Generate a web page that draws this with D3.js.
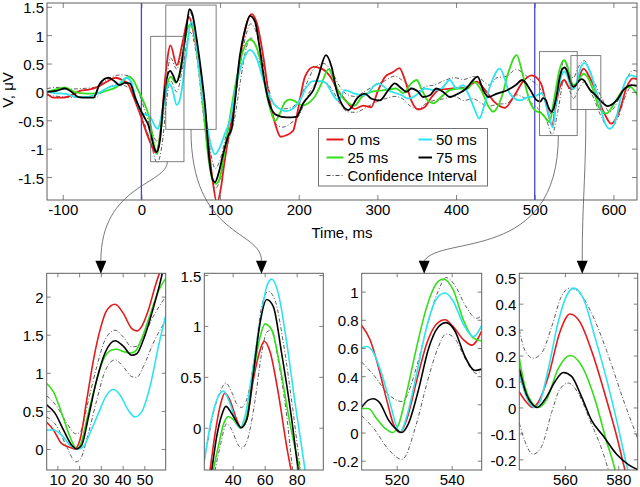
<!DOCTYPE html>
<html><head><meta charset="utf-8">
<script src="https://cdn.jsdelivr.net/npm/d3@7"></script>
<style>body{margin:0;background:#fff}svg{display:block}</style>
</head><body><svg id="c" width="640" height="487"></svg>
<script>
// ---------------- DATA ----------------
const seriesNames = ['0 ms','25 ms','50 ms','75 ms'];
const ciName = 'Confidence Interval';
const markerTimes = [0, 500];
const mainXTicks = [-100,0,100,200,300,400,500,600];
const mainYTicks = [-1.5,-1,-0.5,0,0.5,1,1.5];
const mainXDomain = [-120, 630];
const mainYDomain = [-1.905, 1.567];

const redMain = [[-120,-0.03],[-112,-0.1],[-100,-0.1],[-89,-0.06],[-78,0.02],[-67,0.04],[-57,0.08],[-44,0.18],[-33,0.25],[-23,0.2],[-17,0.14],[-10,-0.09],[-2,-0.38],[7,-0.74],[13,-0.95],[18,-1.07],[24,-0.75],[31,0.35],[37,0.82],[45,0.47],[52,0.85],[60.5,1.32],[67,1.0],[74,0.44],[83,-0.62],[90,-1.5],[96,-1.95],[101,-1.7],[105,-1.3],[110,-0.85],[117,-0.32],[125,0.56],[132,1.1],[140,1.37],[147,1.2],[155,0.62],[163,-0.15],[170,-0.56],[177,-0.79],[185,-0.76],[193,-0.68],[199,-0.32],[208,0.27],[219,0.44],[229,0.41],[240,0.27],[250,0.02],[258,-0.12],[265,-0.24],[271,-0.3],[282,-0.24],[292,-0.27],[301,0.03],[310,0.27],[320,0.35],[328,0.42],[335,0.21],[343,-0.15],[352,-0.31],[360,-0.27],[369,-0.09],[379,0.04],[396,0.06],[413,0.08],[426,0.18],[437,0.03],[449,-0.18],[462,-0.28],[473,-0.09],[485,0.18],[496,0.29],[507,0.17],[510,0.07],[513,-0.12],[517,-0.37],[522,-0.59],[527,-0.22],[531,0.04],[537.5,0.21],[544,0.07],[548,0.05],[554,0.17],[562,0.41],[570,0.25],[576,0.08],[582,-0.17],[590,-0.42],[597,-0.56],[608,-0.32],[617,0.09],[625,0.24],[632,0.21]];
const greenMain = [[-120,0],[-110,0.04],[-97,0.08],[-85,0.0],[-70,-0.03],[-55,-0.02],[-40,0.04],[-31,0.09],[-23,0.2],[-16,0.27],[-10,0.2],[-4,0.03],[3,-0.18],[8,-0.36],[12,-0.6],[16,-0.92],[20,-1.1],[24,-0.72],[28,-0.25],[32,0.08],[37,0.27],[44,0.16],[49,0.36],[56,0.95],[61,1.18],[66,1.1],[72,0.56],[79,-0.32],[85,-1.15],[91,-1.56],[95,-1.62],[100,-1.5],[106,-1.03],[112.6,-0.44],[119,0.09],[127,0.62],[138,0.92],[146,0.8],[153,0.44],[159,-0.03],[165.5,-0.38],[170,-0.51],[176,-0.38],[182.5,-0.18],[189,-0.13],[197,-0.18],[205,-0.24],[212,-0.2],[220,-0.09],[229,0.15],[238,0.4],[246,0.15],[252,-0.03],[259,-0.15],[271,-0.24],[280,-0.09],[292,0],[309,0.03],[324,0.06],[333,-0.02],[343,0.15],[350,0.21],[356,0.05],[364,-0.15],[371,-0.2],[381,-0.09],[392,0.03],[403,0.06],[415,0.06],[422,0.18],[432,0.03],[441,-0.25],[447,-0.35],[458,-0.09],[466,0.32],[477,0.65],[485,0.29],[494,-0.18],[502,-0.34],[507,-0.36],[512,-0.43],[519,-0.53],[523,-0.26],[527,0.06],[531,0.36],[537,0.56],[541,0.48],[545,0.25],[549,0.12],[553,0.14],[558,0.26],[562,0.32],[566,0.28],[571,0.15],[576,-0.03],[582,-0.28],[591,-0.38],[602,-0.18],[612,0.03],[621,0.09],[632,-0.09]];
const cyanMain = [[-120,0],[-110,-0.02],[-95,-0.04],[-82,-0.09],[-70,-0.09],[-57,-0.04],[-40,0.09],[-30,0.12],[-19,0.25],[-13,0.18],[-7,-0.12],[0,-0.36],[5,-0.4],[9,-0.41],[13,-0.48],[17,-0.6],[21,-0.65],[25,-0.45],[29,-0.18],[33,0.07],[35.5,0.14],[39,0.06],[45,-0.23],[49,-0.13],[53,0.2],[57.4,0.72],[63.5,1.24],[67,1.1],[74.5,0.27],[83,-0.56],[89,-0.97],[93.5,-1.1],[100,-0.97],[106,-0.74],[112.6,-0.5],[121,0.15],[129.5,0.56],[138,0.74],[146.5,0.59],[155,0.21],[163,-0.09],[172,-0.26],[184.6,-0.34],[193,-0.29],[201.5,-0.15],[210,0.09],[218.5,0.19],[229,0.19],[235,0.15],[244,-0.06],[250,-0.15],[258.7,0.03],[271,-0.03],[284,-0.06],[297,0.12],[301,0.15],[314,0.03],[331,-0.06],[339,-0.12],[352,-0.03],[360,0.06],[373,0.03],[381.5,0.06],[392,0.21],[400.5,0.06],[409,0.12],[415.4,-0.03],[424,-0.32],[429.4,-0.47],[436.6,-0.2],[443,0.09],[455.6,0.41],[468.5,-0.03],[481,-0.15],[491.6,-0.09],[500,-0.08],[509,-0.02],[514,-0.2],[518,-0.42],[523,-0.63],[527,-0.21],[531,0.12],[535,0.32],[538,0.36],[541,0.3],[545,0.12],[549,0.05],[554,0.2],[558,0.41],[563.5,0.51],[568,0.43],[572,0.3],[576,0.1],[583,-0.22],[588,-0.5],[595.4,-0.65],[604,-0.44],[610.3,-0.03],[618.7,0.27],[623,0.29],[632,0.24]];
const blackMain = [[-120,0],[-108,0.02],[-97,0.06],[-88.6,0],[-80,-0.09],[-69.6,-0.1],[-61,-0.1],[-52.6,0.15],[-42,0.25],[-33.5,0.18],[-28,0.12],[-21,0.16],[-14.5,0.15],[-8,-0.1],[0,-0.35],[5,-0.48],[9,-0.59],[13,-0.81],[16.5,-1.0],[19.4,-1.06],[23.6,-0.85],[28,-0.18],[32,0.22],[36.5,0.37],[40,0.3],[44.5,0.17],[49.5,0.37],[53.4,0.72],[57.2,1.12],[61,1.46],[65,1.36],[70.6,0.9],[76.9,0.25],[81,-0.25],[86,-1.15],[91,-1.56],[93.5,-1.59],[98,-1.44],[104,-1.09],[110.5,-0.77],[114.7,-0.65],[119,-0.15],[125,0.62],[131.6,1.09],[138,1.34],[144.4,1.24],[150.7,0.74],[157,0.15],[163.4,-0.24],[172,-0.41],[184.6,-0.45],[197,-0.44],[205.7,-0.2],[212,-0.09],[218.5,0.03],[224.8,0.27],[234.6,0.65],[241.8,0.44],[248,0.03],[252.4,-0.15],[263,-0.32],[275.7,-0.09],[284,-0.03],[292.6,-0.12],[303,-0.15],[313.8,0.03],[322,0.15],[330.7,0.06],[337,0],[343.4,0.06],[352,0],[358,-0.09],[366.7,-0.06],[375,0.06],[383.6,0],[392,-0.09],[402.7,-0.03],[413,0.06],[421.8,0.21],[427.3,0.27],[434.5,0.03],[441,-0.09],[452,-0.03],[465,0.03],[476,0.12],[484,0.21],[494.6,0.03],[502,-0.14],[507,-0.17],[510.5,-0.11],[514,-0.14],[517,-0.26],[521.8,-0.35],[524,-0.29],[528,-0.05],[531.5,0.24],[535,0.4],[538,0.43],[541,0.37],[545,0.19],[549,0.09],[553,0.13],[556,0.19],[559.5,0.225],[563,0.2],[566,0.13],[570,0.04],[574.4,-0.02],[579.4,-0.09],[584,-0.16],[593,-0.25],[604,-0.15],[614.5,0.06],[623,0.12],[632,0.1]];
const ciUpperMain = [[-120,0.06],[-105,0.08],[-90,0.05],[-75,0.06],[-60,0.08],[-45,0.2],[-35,0.28],[-25,0.3],[-15,0.28],[-5,0.05],[5,-0.35],[12,-0.65],[20,-0.87],[27,-0.5],[32,0.2],[37,0.6],[45,0.4],[52,0.8],[62,1.4],[70,0.9],[78,0.0],[86,-0.9],[94,-1.35],[102,-1.1],[110,-0.6],[118,-0.2],[126,0.5],[132,0.95],[139,1.2],[146,1.05],[154,0.55],[162,0.05],[170,-0.25],[180,-0.3],[190,-0.28],[200,-0.15],[210,0.15],[220,0.42],[232,0.5],[242,0.35],[252,0.1],[262,-0.05],[272,-0.08],[285,0.02],[298,0.12],[310,0.2],[322,0.28],[332,0.2],[342,0.08],[352,0.02],[362,0.1],[372,0.12],[385,0.2],[398,0.25],[410,0.22],[422,0.27],[432,0.22],[442,0.12],[452,0.25],[465,0.28],[476,0.4],[486,0.32],[496,0.2],[506,0.08],[515,-0.2],[522,-0.4],[530,0.05],[537,0.55],[545,0.3],[549,0.25],[556,0.45],[563,0.55],[573,0.25],[585,-0.1],[595,-0.35],[606,-0.15],[616,0.2],[625,0.38],[632,0.35]];
const ciLowerMain = [[-120,-0.06],[-105,-0.08],[-90,-0.1],[-75,-0.08],[-60,-0.1],[-45,0.05],[-35,0.12],[-25,0.12],[-15,0.05],[-5,-0.25],[5,-0.6],[12,-0.9],[20,-1.25],[27,-0.85],[32,-0.15],[37,0.2],[45,0.0],[52,0.4],[62,1.05],[70,0.65],[78,-0.3],[86,-1.2],[94,-1.7],[102,-1.45],[110,-0.9],[118,-0.5],[126,0.2],[132,0.7],[139,0.95],[146,0.8],[154,0.3],[162,-0.2],[170,-0.55],[180,-0.62],[190,-0.55],[200,-0.42],[210,-0.1],[220,0.12],[232,0.18],[242,0.05],[252,-0.2],[262,-0.35],[272,-0.36],[285,-0.28],[298,-0.18],[310,-0.12],[322,-0.08],[332,-0.12],[342,-0.25],[352,-0.3],[362,-0.2],[372,-0.15],[385,-0.12],[398,-0.08],[410,-0.15],[422,-0.12],[432,-0.2],[442,-0.25],[452,-0.22],[465,-0.2],[476,-0.05],[486,-0.1],[496,-0.2],[506,-0.32],[515,-0.5],[522,-0.75],[530,-0.3],[537,0.2],[545,0.0],[549,-0.12],[556,0.05],[563,0.18],[573,-0.05],[585,-0.45],[595,-0.65],[606,-0.45],[616,-0.05],[625,0.12],[632,0.1]];

// zoom windows drawn on main chart: [t0, t1, v0, v1]
const zoomBoxes = [[11.8,54.1,-1.23,0.98],[31,95,-0.66,1.53],[506,554,-0.77,0.71],[546,584,-0.31,0.64]];

// panel 1
const p1XTicks = [10,20,30,40,50], p1YTicks = [0,0.5,1,1.5,2];
const p1XDomain = [5.1,59.8], p1YDomain = [-0.276,2.306];
const p1Red = [[5.1,0.35],[8.2,0.25],[12,0.07],[16,0.02],[18,0],[20.4,0.12],[23.5,0.64],[26.6,1.17],[29.6,1.56],[32.7,1.82],[36.5,1.9],[40.3,1.78],[44.2,1.58],[46.5,1.55],[48.8,1.61],[51.8,1.82],[54.9,2.13],[58,2.4]];
const p1Green = [[5.1,0.86],[8.2,0.75],[12,0.47],[15.8,0.16],[19,0],[21.2,0.1],[23.5,0.38],[27.3,0.82],[31.1,1.17],[35,1.3],[37.3,1.31],[40.3,1.28],[43.4,1.26],[45.7,1.28],[48.8,1.45],[52.6,1.76],[56.4,2.07],[59.8,2.24]];
const p1Cyan = [[5.1,0.25],[8.2,0.25],[12,0.18],[15.8,0.05],[19.7,0],[22,0.03],[25,0.21],[28.9,0.47],[32.7,0.71],[35.7,0.78],[38.8,0.71],[42.6,0.51],[45.7,0.42],[48.8,0.49],[52.6,0.82],[56.4,1.34],[59.8,1.75]];
const p1Black = [[5.1,0.58],[8.9,0.47],[12.8,0.25],[16.6,0.05],[18.8,0],[21.2,0.05],[24.3,0.42],[28.1,0.91],[31.9,1.26],[36.5,1.42],[40.3,1.35],[44.2,1.23],[46.5,1.25],[49.5,1.43],[53.4,1.78],[57.2,2.18],[59,2.4]];
const p1Upper = [[5.1,0.7],[9.7,0.56],[14.3,0.34],[18.5,0.2],[20.4,0.22],[24.3,0.64],[28.1,1.08],[31.9,1.43],[36.5,1.56],[40.3,1.47],[44.2,1.34],[46.5,1.35],[49.5,1.47],[54.1,1.74],[59.8,2.0]];
const p1Lower = [[5.1,0.42],[9.7,0.3],[14.3,0.03],[18.5,-0.17],[20.4,-0.14],[24.3,0.21],[28.1,0.64],[31.9,1.02],[36.5,1.17],[40.3,1.08],[44.2,0.95],[46.5,0.94],[49.5,1.08],[54.1,1.39],[59.8,1.69]];

// panel 2
const p2XTicks = [40,60,80], p2YTicks = [0,0.5,1,1.5];
const p2XDomain = [22.3,96.6], p2YDomain = [-0.415,1.517];
const p2Red = [[24,-0.6],[25.8,-0.42],[29,-0.06],[32.1,0.21],[35.2,0.34],[38.3,0.27],[42.5,0.08],[45.2,0],[48.8,0.08],[52.9,0.47],[57.1,0.76],[59.6,0.85],[63.3,0.75],[68.5,0.34],[73.8,-0.19],[77.5,-0.5]];
const p2Green = [[26,-0.6],[27.9,-0.42],[31,-0.19],[34.2,0.03],[37.3,0.11],[40.4,0.08],[44.6,0],[48.3,0.08],[52.9,0.53],[57.1,0.89],[60.2,1.02],[64.4,0.96],[69.6,0.6],[75.8,0.04],[82.1,-0.42],[84,-0.55]];
const p2Cyan = [[22.3,-0.33],[25.8,0.01],[30,0.27],[34.2,0.36],[38.3,0.24],[42.5,0.04],[44.6,0],[47.7,0.11],[51.9,0.5],[57.1,1.03],[61.3,1.39],[64.4,1.46],[68.5,1.32],[73.8,0.83],[79,0.24],[83.1,-0.19],[86,-0.5]];
const p2Black = [[25,-0.6],[26.9,-0.42],[30,-0.09],[33.1,0.12],[35.8,0.21],[39.4,0.14],[43.5,0.03],[45.2,0],[48.8,0.08],[52.9,0.53],[57.1,1.03],[61.3,1.26],[65.4,1.19],[70.6,0.73],[76.9,0.08],[81,-0.42],[83,-0.6]];
const p2Upper = [[22.3,-0.3],[23.8,-0.19],[27.9,0.14],[32.1,0.35],[35.8,0.44],[39.4,0.35],[43.5,0.21],[45.6,0.2],[49.2,0.3],[54,0.73],[58.1,1.19],[62.3,1.34],[66.5,1.25],[71.7,0.83],[77.9,0.14],[82.5,-0.42],[84,-0.55]];
const p2Lower = [[27,-0.6],[29,-0.42],[32.1,-0.19],[36.3,0.04],[39.4,-0.02],[43.5,-0.17],[45.6,-0.2],[49.2,-0.12],[54,0.27],[58.1,0.73],[61.3,0.94],[64.4,0.96],[68.5,0.66],[73.8,0.11],[77.5,-0.42],[79,-0.6]];

// panel 3
const p3XTicks = [520,540], p3YTicks = [-0.2,0,0.2,0.4,0.6,0.8,1];
const p3XDomain = [507.3,550.9], p3YDomain = [-0.266,1.13];
const p3Red = [[507.3,0.76],[510.3,0.66],[513.3,0.47],[516.4,0.23],[518.8,0.06],[521.2,0],[523.6,0.09],[527.3,0.37],[530.9,0.63],[534.5,0.77],[537.6,0.8],[540.6,0.75],[544.2,0.66],[547.3,0.62],[550.9,0.72]];
const p3Green = [[507.3,0.17],[509.7,0.17],[512.7,0.1],[515.8,0.03],[518.5,0],[520.6,0.05],[523.6,0.28],[527.3,0.61],[530.9,0.89],[534.5,1.06],[537,1.09],[540.6,1.01],[544.2,0.8],[547.9,0.67],[550.9,0.65]];
const p3Cyan = [[507.3,0.6],[509.1,0.61],[511.5,0.57],[514.5,0.42],[517.6,0.21],[520,0.04],[521.2,0],[523.6,0.11],[527.3,0.42],[530.9,0.75],[534.5,0.95],[537.6,0.99],[540.6,0.93],[544.2,0.77],[547.9,0.68],[550.9,0.76]];
const p3Black = [[507.3,0.18],[509.7,0.23],[511.5,0.24],[513.9,0.21],[517,0.09],[520,0.02],[521.8,0],[524.2,0.06],[527.9,0.3],[531.5,0.59],[535.2,0.75],[537.9,0.78],[541.2,0.72],[544.8,0.54],[548.5,0.44],[550.9,0.45]];
const p3Upper = [[507.3,0.5],[512,0.4],[517,0.27],[522,0.22],[527,0.45],[531,0.75],[535,1.0],[538,1.1],[541,1.05],[545,0.9],[549,0.81],[550.9,0.83]];
const p3Lower = [[507.3,0.12],[512,0.02],[517,-0.12],[522,-0.19],[527,0.05],[531,0.35],[535,0.6],[538,0.7],[541,0.67],[545,0.52],[549,0.42],[550.9,0.44]];

// panel 4
const p4XTicks = [560,580], p4YTicks = [-0.2,-0.1,0,0.1,0.2,0.3,0.4,0.5];
const p4XDomain = [542.9,587.3], p4YDomain = [-0.241,0.517];
const p4Red = [[542.9,0.06],[545.6,0.02],[547.9,0],[550,0.02],[553.8,0.12],[558.1,0.29],[561.9,0.36],[565.6,0.33],[570.6,0.2],[575.6,0.03],[579.4,-0.11],[582.5,-0.24],[584,-0.3]];
const p4Green = [[542.9,0.19],[545,0.08],[547.5,0.02],[550,0],[553.1,0.03],[557.5,0.15],[562.1,0.2],[566.3,0.16],[571.3,0.03],[575.6,-0.13],[578.8,-0.24],[580,-0.3]];
const p4Cyan = [[542.9,0.13],[545.6,0.04],[548.8,0.0],[550.6,0.02],[553.8,0.15],[557.5,0.33],[560.6,0.43],[563.4,0.46],[566.9,0.42],[571.3,0.27],[575.6,0.11],[579.4,-0.05],[583.1,-0.22],[585,-0.3]];
const p4Black = [[542.9,0.15],[545.6,0.05],[548,0.01],[549.6,0],[553.1,0.04],[556.3,0.1],[559.4,0.135],[562.5,0.12],[566.3,0.04],[570,-0.05],[574.4,-0.11],[579.4,-0.18],[583.8,-0.22],[587.3,-0.24]];
const p4Upper = [[542.9,0.3],[545,0.22],[548.1,0.19],[551.3,0.21],[555,0.31],[558.8,0.43],[561.9,0.46],[565.6,0.44],[570.6,0.35],[575.6,0.22],[581.9,0.03],[587.3,-0.12]];
const p4Lower = [[542.9,-0.06],[545,-0.13],[548.1,-0.18],[551.3,-0.15],[555,-0.02],[558.1,0.07],[561.3,0.094],[565,0.055],[569.4,-0.05],[573.8,-0.16],[576.3,-0.24],[578,-0.3]];

// arrow targets (time in each panel's x units)
const arrowTargets = [30, 58, 530, 566.5];

// ---------------- STYLE / LAYOUT ----------------
const colors = ['#e41a1c','#33dd1a','#2ee3f0','#000000'];
const FONT = 'Liberation Sans, Arial, Helvetica, sans-serif';
const FS = 15;
const axisCol = '#606060';
const svg = d3.select('#c');

const mainX = d3.scaleLinear().domain(mainXDomain).range([47, 637]);
const mainY = d3.scaleLinear().domain(mainYDomain).range([200, 3]);

const panelTop = 273.3, panelBottom = 470;
const panelDefs = [
  {xd:p1XDomain, yd:p1YDomain, px:[46.7,165.7], xt:p1XTicks, yt:p1YTicks, s:[p1Red,p1Green,p1Cyan,p1Black], ci:[p1Upper,p1Lower]},
  {xd:p2XDomain, yd:p2YDomain, px:[204.3,323.3], xt:p2XTicks, yt:p2YTicks, s:[p2Red,p2Green,p2Cyan,p2Black], ci:[p2Upper,p2Lower]},
  {xd:p3XDomain, yd:p3YDomain, px:[361.7,481.7], xt:p3XTicks, yt:p3YTicks, s:[p3Red,p3Green,p3Cyan,p3Black], ci:[p3Upper,p3Lower]},
  {xd:p4XDomain, yd:p4YDomain, px:[519.3,637.7], xt:p4XTicks, yt:p4YTicks, s:[p4Red,p4Green,p4Cyan,p4Black], ci:[p4Upper,p4Lower]},
];

const fmt = d => String(d);
function drawAxes(g, x, y, xt, yt, tl){
  const [xa,xb] = x.range(), [ya,yb] = y.range();
  const style = sel => {
    sel.select('.domain').remove();
    sel.selectAll('.tick line').attr('stroke', axisCol).attr('stroke-width',0.8);
    sel.selectAll('text').attr('font-family', FONT).attr('font-size', FS).attr('fill','#000');
    sel.attr('font-family', FONT);
  };
  g.append('g').attr('transform',`translate(0,${ya})`)
    .call(d3.axisBottom(x).tickValues(xt).tickSize(-tl).tickPadding(4).tickFormat(fmt)).call(style);
  g.append('g').attr('transform',`translate(0,${yb})`)
    .call(d3.axisTop(x).tickValues(xt).tickSize(-tl).tickFormat('')).call(style);
  g.append('g').attr('transform',`translate(${xa},0)`)
    .call(d3.axisLeft(y).tickValues(yt).tickSize(-tl).tickPadding(3).tickFormat(fmt)).call(style)
    .selectAll('text').attr('dy','0.4em');
  g.append('g').attr('transform',`translate(${xb},0)`)
    .call(d3.axisRight(y).tickValues(yt).tickSize(-tl).tickFormat('')).call(style);
  g.append('rect').attr('x',xa).attr('y',yb).attr('width',xb-xa).attr('height',ya-yb)
    .attr('fill','none').attr('stroke',axisCol).attr('stroke-width',1);
}
let clipId = 0;
function clipGroup(x, y){
  const id = 'clip'+(clipId++);
  const [xa,xb] = x.range(), [ya,yb] = y.range();
  svg.append('clipPath').attr('id',id).append('rect').attr('x',xa).attr('y',yb).attr('width',xb-xa).attr('height',ya-yb);
  return svg.append('g').attr('clip-path',`url(#${id})`);
}
function drawSeries(g, x, y, series, ci, lw){
  const line = d3.line().x(d=>x(d[0])).y(d=>y(d[1])).curve(d3.curveMonotoneX);
  ci.forEach(c => g.append('path').attr('d', line(c)).attr('fill','none')
    .attr('stroke','#333').attr('stroke-width',0.8).attr('stroke-dasharray','4,2,1,2'));
  series.forEach((s,i) => g.append('path').attr('d', line(s)).attr('fill','none')
    .attr('stroke', colors[i]).attr('stroke-width', lw).attr('stroke-linejoin','round'));
}

// ---------------- MAIN CHART ----------------
const mg = clipGroup(mainX, mainY);
markerTimes.forEach(t => {
  const px = mainX(t);
  mg.append('line').attr('x1',px).attr('x2',px)
    .attr('y1',mainY.range()[0]).attr('y2',mainY.range()[1]).attr('stroke','#4444e0').attr('stroke-width',1.3);
});
drawSeries(mg, mainX, mainY, [redMain,greenMain,cyanMain,blackMain], [ciUpperMain,ciLowerMain], 1.8);
zoomBoxes.forEach(b => mg.append('rect').attr('x',mainX(b[0])).attr('y',mainY(b[3]))
  .attr('width',mainX(b[1])-mainX(b[0])).attr('height',mainY(b[2])-mainY(b[3]))
  .attr('fill','none').attr('stroke','#707070').attr('stroke-width',0.9));
drawAxes(svg.append('g'), mainX, mainY, mainXTicks, mainYTicks, 5);

// axis labels
svg.append('text').attr('x',342).attr('y',238).attr('text-anchor','middle')
  .attr('font-family',FONT).attr('font-size',FS).text('Time, ms');
svg.append('text').attr('transform','translate(13,90) rotate(-90)').attr('text-anchor','middle')
  .attr('font-family',FONT).attr('font-size',FS).text('V, \u03BCV');

// legend
const lg = svg.append('g');
lg.append('rect').attr('x',318.5).attr('y',128.5).attr('width',169).attr('height',57.5)
  .attr('fill','#fff').attr('stroke','#707070').attr('stroke-width',1);
const legendPos = [[326.5,139.5],[326.5,157.5],[418.5,139.5],[418.5,157.5]];
seriesNames.forEach((n,i) => {
  const [lx,ly] = legendPos[i];
  const w = i<2 ? 17 : 13.5;
  lg.append('line').attr('x1',lx).attr('x2',lx+w).attr('y1',ly).attr('y2',ly)
    .attr('stroke',colors[i]).attr('stroke-width',2);
  lg.append('text').attr('x',lx+w+4).attr('y',ly+5.5).attr('font-family',FONT).attr('font-size',FS).text(n);
});
lg.append('line').attr('x1',326.5).attr('x2',343.5).attr('y1',175.5).attr('y2',175.5)
  .attr('stroke','#333').attr('stroke-width',0.9).attr('stroke-dasharray','4,2,1,2');
lg.append('text').attr('x',347.5).attr('y',181).attr('font-family',FONT).attr('font-size',FS).text(ciName);

// ---------------- PANELS ----------------
const connectorK = [[0.23,0,0.23],[0.83,0,0.76],[1.02,0.126,0.79],[0.46,0,0.6]];
panelDefs.forEach((p,i) => {
  const x = d3.scaleLinear().domain(p.xd).range(p.px);
  const y = d3.scaleLinear().domain(p.yd).range([panelBottom, panelTop]);
  const g = clipGroup(x, y);
  drawSeries(g, x, y, p.s, p.ci, 1.6);
  drawAxes(svg.append('g'), x, y, p.xt, p.yt, 4);
  // connector from zoom box to panel
  const b = zoomBoxes[i];
  const sx = mainX((b[0]+b[1])/2), sy = mainY(b[2]);
  const ex = x(arrowTargets[i]), ey = panelTop - 12.5;
  const k = connectorK[i];
  const path = d3.path();
  path.moveTo(sx, sy);
  path.bezierCurveTo(sx, sy + k[0]*(ey-sy), ex + k[1]*(sx-ex), sy + k[2]*(ey-sy), ex, ey);
  svg.append('path').attr('d', path.toString()).attr('fill','none').attr('stroke','#555').attr('stroke-width',0.8);
  svg.append('path').attr('d', `M${ex-5.5},${ey}L${ex+5.5},${ey}L${ex},${panelTop+0.5}Z`).attr('fill','#000');
});
</script></body></html>
